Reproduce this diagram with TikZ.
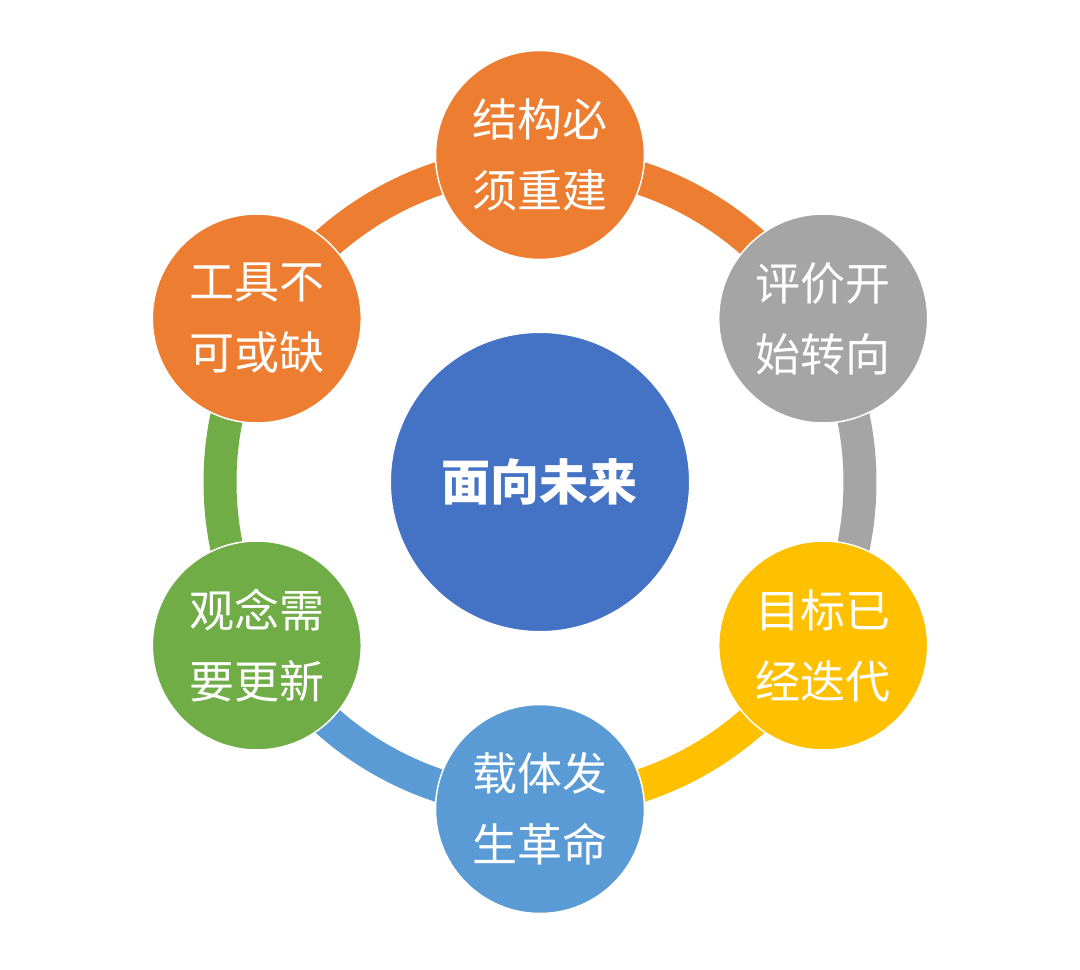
\documentclass[tikz,border=0pt]{standalone}
\usepackage{fontspec}
\newfontfamily\cjk{Noto Sans CJK SC}
\definecolor{cOrange}{HTML}{ED7D31}
\definecolor{cGray}{HTML}{A5A5A5}
\definecolor{cYellow}{HTML}{FFC000}
\definecolor{cLBlue}{HTML}{5B9BD5}
\definecolor{cGreen}{HTML}{70AD47}
\definecolor{cBlue}{HTML}{4472C4}
\tikzset{
  outer/.style={circle, minimum size=209pt, inner sep=0pt, draw=white, line width=1.5pt,
    text=white, align=center, font=\cjk\fontsize{45}{71}\selectfont},
  hub/.style={circle, minimum size=299pt, inner sep=0pt, fill=cBlue, draw=white, line width=1pt,
    text=white, font=\cjk\bfseries\fontsize{49}{60}\selectfont},
  ring/.style={line width=33pt}
}
\begin{document}
\begin{tikzpicture}[x=1pt,y=1pt]
\useasboundingbox (-540,-488) rectangle (540,482);
% ring anchor coordinates
\coordinate (r90) at (90:320);
\coordinate (r30) at (30:320);
\coordinate (rm30) at (-30:320);
\coordinate (rm90) at (-90:320);
\coordinate (rm150) at (-150:320);
\coordinate (r150) at (150:320);
% ring arcs
\draw[ring, cOrange] (r90) arc[start angle=90, end angle=30, radius=320];
\draw[ring, cGray] (r30) arc[start angle=30, end angle=-30, radius=320];
\draw[ring, cYellow] (rm30) arc[start angle=-30, end angle=-90, radius=320];
\draw[ring, cLBlue] (rm90) arc[start angle=-90, end angle=-150, radius=320];
\draw[ring, cGreen] (rm150) arc[start angle=-150, end angle=-210, radius=320];
\draw[ring, cOrange] (r150) arc[start angle=150, end angle=90, radius=320];
% circles
\node[hub] (c) at (0,0) {面向未来};
\node[outer, fill=cOrange] (n1) at (90:327) {结构必\\须重建};
\node[outer, fill=cGray] (n2) at (30:327) {评价开\\始转向};
\node[outer, fill=cYellow] (n3) at (-30:327) {目标已\\经迭代};
\node[outer, fill=cLBlue] (n4) at (-90:327) {载体发\\生革命};
\node[outer, fill=cGreen] (n5) at (-150:327) {观念需\\要更新};
\node[outer, fill=cOrange] (n6) at (150:327) {工具不\\可或缺};
\end{tikzpicture}
\end{document}
